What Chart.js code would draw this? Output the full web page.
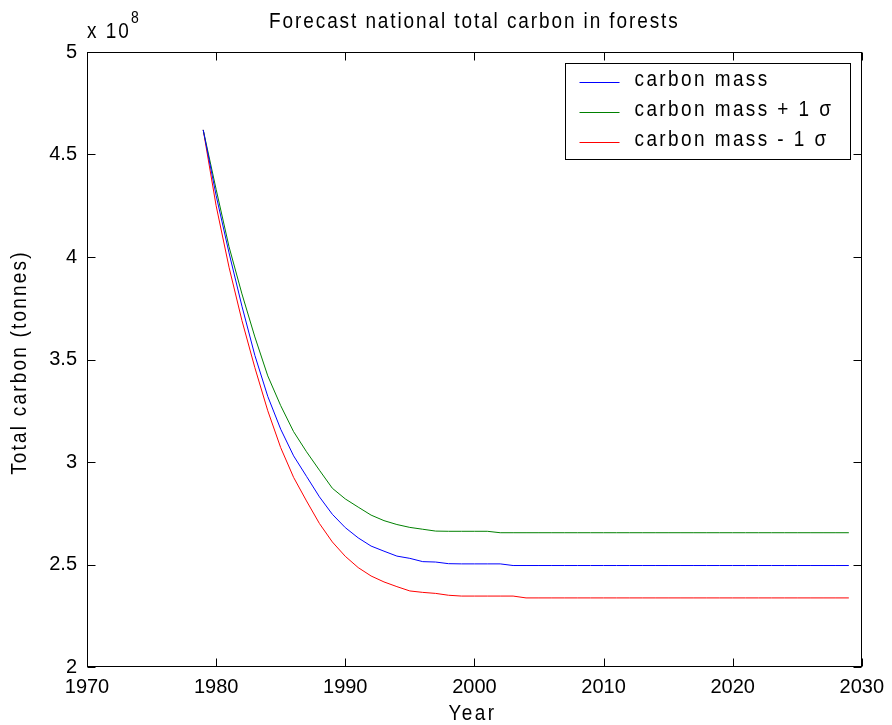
<!DOCTYPE html>
<html>
<head>
<meta charset="utf-8">
<style>
html,body{margin:0;padding:0;background:#ffffff;}
#wrap{width:892px;height:725px;}
</style>
<script src="https://cdn.jsdelivr.net/npm/chart.js@4.4.1/dist/chart.umd.min.js"></script>
</head>
<body>
<div id="wrap"><canvas id="c" width="892" height="725"></canvas></div>
<script>
// ---- data (values in units of 1e8 tonnes) ----
const years = [1979,1980,1981,1982,1983,1984,1985,1986,1987,1988,1989,1990,1991,1992,1993,1994,1995,1996,1997,1998,1999,2000,2001,2002,2003,2004,2005,2006,2007,2008,2009,2010,2011,2012,2013,2014,2015,2016,2017,2018,2019,2020,2021,2022,2023,2024,2025,2026,2027,2028,2029];
const carbonMass = [4.62,4.30,4.02,3.76,3.52,3.32,3.16,3.03,2.93,2.83,2.745,2.68,2.63,2.59,2.565,2.541,2.53,2.514,2.512,2.504,2.503,2.503,2.503,2.503,
  2.495,2.495,2.495,2.495,2.495,2.495,2.495,2.495,2.495,2.495,2.495,2.495,2.495,2.495,2.495,2.495,2.495,2.495,2.495,2.495,2.495,2.495,2.495,2.495,2.495,2.495,2.495];
const carbonMassPlus = [4.62,4.33,4.05,3.82,3.61,3.42,3.275,3.148,3.05,2.96,2.872,2.82,2.78,2.741,2.714,2.695,2.681,2.672,2.663,2.662,2.662,2.662,2.662,
  2.655,2.655,2.655,2.655,2.655,2.655,2.655,2.655,2.655,2.655,2.655,2.655,2.655,2.655,2.655,2.655,2.655,2.655,2.655,2.655,2.655,2.655,2.655,2.655,2.655,2.655,2.655,2.655];
const carbonMassMinus = [4.62,4.25,3.95,3.69,3.46,3.25,3.07,2.925,2.81,2.70,2.61,2.54,2.485,2.444,2.415,2.392,2.371,2.364,2.359,2.35,2.346,2.346,2.346,2.346,2.346,
  2.337,2.337,2.337,2.337,2.337,2.337,2.337,2.337,2.337,2.337,2.337,2.337,2.337,2.337,2.337,2.337,2.337,2.337,2.337,2.337,2.337,2.337,2.337,2.337,2.337,2.337];
const seriesLabels = ['carbon mass','carbon mass + 1 \u03c3','carbon mass - 1 \u03c3'];
const seriesColors = ['#0000ff','#008000','#ff0000'];
const xTickValues = [1970,1980,1990,2000,2010,2020,2030];
const xTickLabels = ['1970','1980','1990','2000','2010','2020','2030'];
const yTickValues = [2,2.5,3,3.5,4,4.5,5];
const yTickLabels = ['2','2.5','3','3.5','4','4.5','5'];
const titleText = 'Forecast national total carbon in forests';
const xTitleText = 'Year';
const yTitleText = 'Total carbon (tonnes)';
const multiplierBase = 'x 10';
const multiplierExp = '8';

const FONT = '"Liberation Sans", Arial, Helvetica, sans-serif';
const SY = 1.15; // vertical stretch of text, as in the reference

function pts(vals){ return years.map((yr,i)=>({x:yr,y:vals[i]})); }

function tallText(ctx, text, x, y){
  ctx.save();
  ctx.translate(x, y);
  ctx.scale(1, SY);
  ctx.fillText(text, 0, 0);
  ctx.restore();
}

const framePlugin = {
  id:'frame',
  afterDraw(chart){
    const ctx = chart.ctx, a = chart.chartArea, xs = chart.scales.x, ys = chart.scales.y;
    ctx.save();
    ctx.strokeStyle = '#000'; ctx.lineWidth = 1;
    const L = Math.round(a.left)+0.5, R = Math.round(a.right)-0.5, T = Math.round(a.top)+0.5, B = Math.round(a.bottom)-0.5;
    ctx.strokeRect(L, T, R-L, B-T);
    const tl = 8;
    ctx.beginPath();
    xs.ticks.forEach(t=>{
      const px = Math.round(xs.getPixelForValue(t.value))+0.5;
      ctx.moveTo(px,B); ctx.lineTo(px,B-tl);
      ctx.moveTo(px,T); ctx.lineTo(px,T+tl);
    });
    ys.ticks.forEach(t=>{
      const py = Math.round(ys.getPixelForValue(t.value))+0.5;
      ctx.moveTo(L,py); ctx.lineTo(L+tl,py);
      ctx.moveTo(R,py); ctx.lineTo(R-tl,py);
    });
    ctx.stroke();

    ctx.fillStyle = '#000';
    // title
    ctx.font = '19px ' + FONT;
    ctx.letterSpacing = '1.9px';
    ctx.textAlign = 'center'; ctx.textBaseline = 'middle';
    tallText(ctx, titleText, (a.left+a.right)/2, 22);
    // x title
    ctx.letterSpacing = '2.4px';
    tallText(ctx, xTitleText, (a.left+a.right)/2 - 2, 714);
    // y title
    ctx.save();
    ctx.translate(20, (a.top+a.bottom)/2 + 3);
    ctx.rotate(-Math.PI/2);
    ctx.scale(1, SY);
    ctx.letterSpacing = '2.2px';
    ctx.fillText(yTitleText, 0, 0);
    ctx.restore();
    // multiplier
    ctx.letterSpacing = '2px';
    ctx.textAlign = 'left'; ctx.textBaseline = 'alphabetic';
    ctx.font = '19px ' + FONT;
    tallText(ctx, multiplierBase, a.left, 38);
    const w = ctx.measureText(multiplierBase).width;
    ctx.font = '14px ' + FONT;
    tallText(ctx, multiplierExp, a.left + w, 23);

    // legend
    const lw = 285, lh = 96;
    const lx = Math.round(a.right - 12 - lw)+0.5, ly = Math.round(a.top + 11)+0.5;
    ctx.fillStyle = '#fff';
    ctx.fillRect(lx, ly, lw, lh);
    ctx.strokeStyle = '#000';
    ctx.strokeRect(lx, ly, lw, lh);
    ctx.font = '19px ' + FONT;
    ctx.letterSpacing = '2.4px';
    ctx.textBaseline = 'middle';
    chart.data.datasets.forEach((ds,i)=>{
      const ry = ly + 18 + i*30;
      ctx.strokeStyle = ds.borderColor;
      ctx.beginPath();
      ctx.moveTo(lx+14, Math.round(ry)+0.5); ctx.lineTo(lx+54, Math.round(ry)+0.5);
      ctx.stroke();
      ctx.fillStyle = '#000';
      tallText(ctx, ds.label, lx+69, ry-2);
    });
    ctx.restore();
  }
};

new Chart(document.getElementById('c'), {
  type:'line',
  data:{
    datasets:[
      {label:seriesLabels[0], data:pts(carbonMass), borderColor:seriesColors[0]},
      {label:seriesLabels[1], data:pts(carbonMassPlus), borderColor:seriesColors[1]},
      {label:seriesLabels[2], data:pts(carbonMassMinus), borderColor:seriesColors[2]}
    ]
  },
  options:{
    responsive:false,
    animation:false,
    devicePixelRatio:1,
    layout:{padding:{top:52,right:27,bottom:0,left:0}},
    elements:{
      line:{borderWidth:1,tension:0,fill:false},
      point:{radius:0,hoverRadius:0}
    },
    plugins:{legend:{display:false},title:{display:false},tooltip:{enabled:false}},
    scales:{
      x:{
        type:'linear', min:1970, max:2030,
        afterFit(s){ s.height = 58; },
        afterBuildTicks(s){ s.ticks = xTickValues.map(v=>({value:v})); },
        grid:{display:false, drawTicks:false},
        border:{display:false},
        ticks:{
          padding:8, color:'#000', maxRotation:0, autoSkip:false,
          font:{family:FONT,size:20},
          callback(v){ const i = xTickValues.indexOf(v); return i>=0 ? xTickLabels[i] : ''; }
        }
      },
      y:{
        type:'linear', min:2, max:5,
        afterFit(s){ s.width = 87; },
        afterBuildTicks(s){ s.ticks = yTickValues.map(v=>({value:v})); },
        grid:{display:false, drawTicks:false},
        border:{display:false},
        ticks:{
          padding:10, color:'#000', autoSkip:false,
          font:{family:FONT,size:20},
          callback(v){ const i = yTickValues.indexOf(v); return i>=0 ? yTickLabels[i] : ''; }
        }
      }
    }
  },
  plugins:[framePlugin]
});
</script>
</body>
</html>
